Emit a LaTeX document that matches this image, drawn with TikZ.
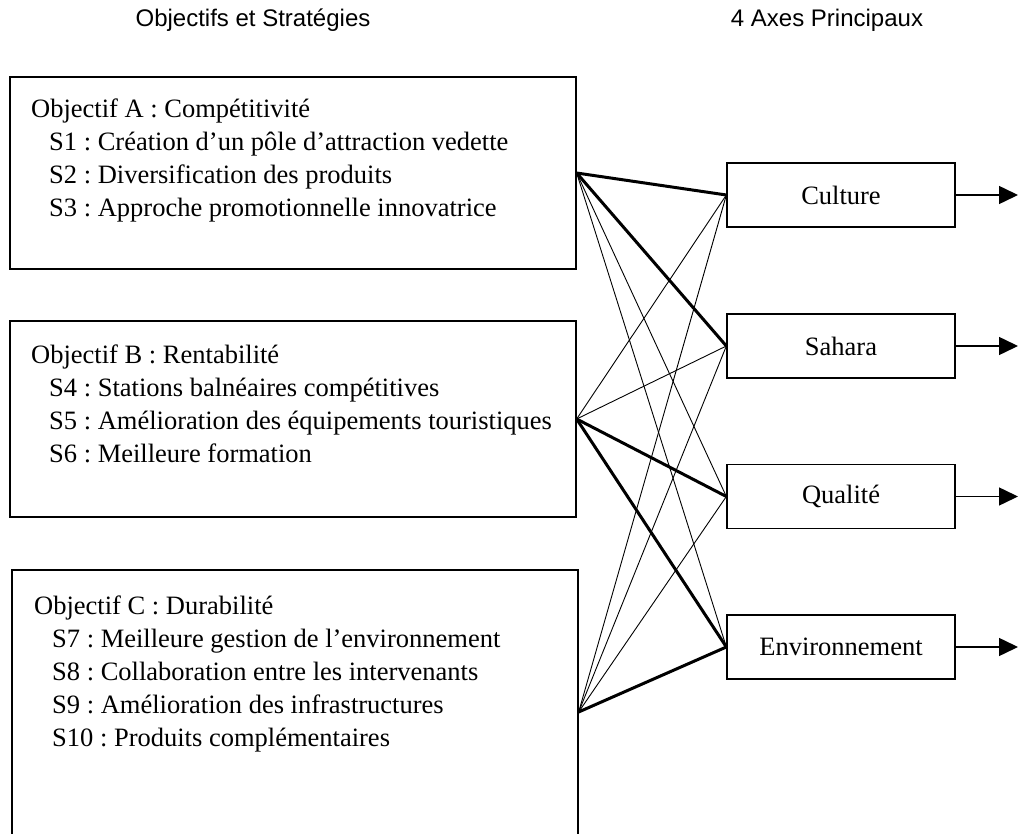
\documentclass[tikz,border=0pt]{standalone}
\usepackage{fontspec}
\setmainfont{Liberation Serif}
\newfontfamily\headfont{Liberation Sans}
\usepackage{tikz}
\usetikzlibrary{positioning, arrows.meta, calc}
\frenchspacing

\tikzset{
	objbox/.style={draw, line width=1.3pt, minimum width=566pt, inner sep=0pt},
	axebox/.style={draw, line width=1.3pt, minimum width=228pt, minimum height=64pt, inner sep=0pt, font=\fontsize{26.5}{32}\selectfont},
	linetxt/.style={anchor=west, inner sep=0pt, text height=18pt, text depth=5pt, font=\fontsize{26.5}{32}\selectfont},
	headtxt/.style={inner sep=0pt, font=\headfont\fontsize{24}{28}\selectfont},
	thinlink/.style={line width=0.9pt},
	thicklink/.style={line width=3pt},
	axearrow/.style={line width=1.5pt, -{Triangle[length=19pt, width=18pt]}}
}

\begin{document}
\begin{tikzpicture}[x=1pt, y=-1pt]
			\clip (0,0) rectangle (1021,834);
			%% titles
			\node[headtxt] (titleL) at (253,20) {Objectifs et Strat\'egies};
			\node[headtxt] (titleR) at (827,20) {4 Axes Principaux};
			
			%% objectives
			\node[objbox, minimum height=192pt] (objA) at (293,173) {};
			\node[objbox, minimum height=196pt] (objB) at (293,419) {};
			\node[objbox, minimum height=284pt] (objC) at (295,712) {};
			
			\node[linetxt] (txtA) at (31,111) {Objectif A : Comp\'etitivit\'e};
			\node[linetxt] (txtS1) at (49,144) {S1 : Cr\'eation d'un p\^ole d'attraction vedette};
			\node[linetxt] (txtS2) at (49,177) {S2 : Diversification des produits};
			\node[linetxt] (txtS3) at (49,210) {S3 : Approche promotionnelle innovatrice};
			
			\node[linetxt] (txtB) at (31,357) {Objectif B : Rentabilit\'e};
			\node[linetxt] (txtS4) at (49,390) {S4 : Stations baln\'eaires comp\'etitives};
			\node[linetxt] (txtS5) at (49,423) {S5 : Am\'elioration des \'equipements touristiques};
			\node[linetxt] (txtS6) at (49,456) {S6 : Meilleure formation};
			
			\node[linetxt] (txtC) at (34,608) {Objectif C : Durabilit\'e};
			\node[linetxt] (txtS7) at (52,641) {S7 : Meilleure gestion de l'environnement};
			\node[linetxt] (txtS8) at (52,674) {S8 : Collaboration entre les intervenants};
			\node[linetxt] (txtS9) at (52,707) {S9 : Am\'elioration des infrastructures};
			\node[linetxt] (txtS10) at (52,740) {S10 : Produits compl\'ementaires};
			
			%% axes
			\node[axebox] (cul) at (841,195) {Culture};
			\node[axebox] (sah) at (841,346) {Sahara};
			\node[axebox] (qua) at (841,496.5) {Qualit\'e};
			\node[axebox] (env) at (841,647) {Environnement};
			
			%% links
			\draw[thicklink] (objA.east) -- (cul.west);
			\draw[thicklink] (objA.east) -- (sah.west);
			\draw[thinlink] (objA.east) -- (qua.west);
			\draw[thinlink] (objA.east) -- (env.west);
			\draw[thinlink] (objB.east) -- (cul.west);
			\draw[thinlink] (objB.east) -- (sah.west);
			\draw[thicklink] (objB.east) -- (qua.west);
			\draw[thicklink] (objB.east) -- (env.west);
			\draw[thinlink] (objC.east) -- (cul.west);
			\draw[thinlink] (objC.east) -- (sah.west);
			\draw[thinlink] (objC.east) -- (qua.west);
			\draw[thicklink] (objC.east) -- (env.west);
			
			%% outputs
			\coordinate (culend) at (1018,195);
			\coordinate (sahend) at (1018,346);
			\coordinate (quaend) at (1018,496.5);
			\coordinate (envend) at (1018,647);
			\draw[axearrow] (cul.east) -- (culend);
			\draw[axearrow] (sah.east) -- (sahend);
			\draw[axearrow] (qua.east) -- (quaend);
			\draw[axearrow] (env.east) -- (envend);
\end{tikzpicture}
\end{document}
